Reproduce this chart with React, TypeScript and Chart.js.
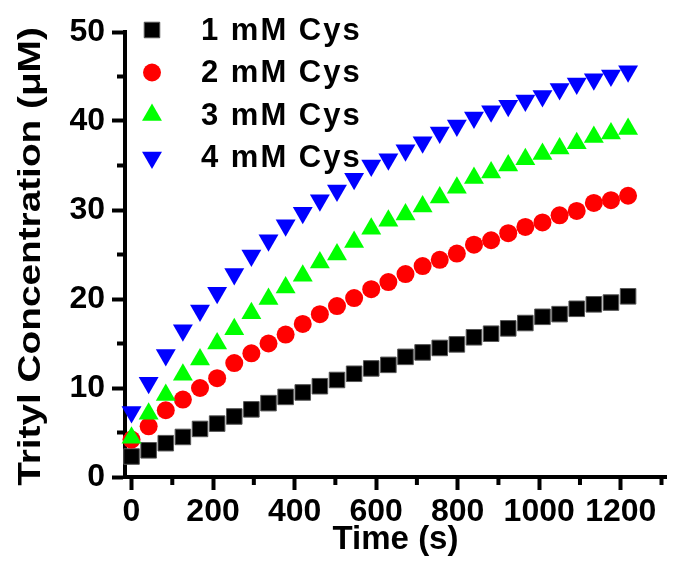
import React, { useEffect, useRef } from 'react';
import { Chart, registerables } from 'chart.js';
import { drawPoint } from 'chart.js/helpers';

Chart.register(...registerables);

// Sampling times (s)
const timeSec = [
  0, 42, 84, 126, 168, 210, 252, 294, 336, 378,
  420, 462, 504, 546, 588, 630, 672, 714, 756, 798,
  840, 882, 924, 966, 1008, 1050, 1092, 1134, 1176, 1218,
];

// Trityl concentration (µM) for each cysteine level
const cys1mM = [
  2.3, 3.0, 3.8, 4.5, 5.4, 6.0, 6.8, 7.6, 8.3, 9.0,
  9.5, 10.2, 10.9, 11.6, 12.2, 12.6, 13.5, 14.0, 14.5, 14.9,
  15.7, 16.1, 16.7, 17.3, 18.0, 18.3, 18.9, 19.4, 19.6, 20.3,
];
const cys2mM = [
  4.2, 5.7, 7.5, 8.7, 10.0, 11.1, 12.8, 13.9, 15.0, 16.0,
  17.2, 18.3, 19.2, 20.1, 21.1, 21.9, 22.8, 23.7, 24.4, 25.1,
  26.1, 26.6, 27.4, 28.1, 28.6, 29.4, 29.9, 30.8, 31.1, 31.6,
];
const cys3mM = [
  4.4, 7.1, 9.2, 11.5, 13.2, 15.0, 16.6, 18.4, 20.0, 21.3,
  22.6, 24.1, 25.0, 26.4, 27.9, 28.8, 29.5, 30.4, 31.4, 32.5,
  33.6, 34.2, 35.0, 35.7, 36.3, 36.9, 37.5, 38.2, 38.6, 39.1,
];
const cys4mM = [
  7.3, 10.6, 13.7, 16.5, 18.7, 20.7, 22.8, 24.9, 26.6, 28.3,
  29.7, 31.1, 32.2, 33.5, 35.0, 35.7, 36.7, 37.6, 38.7, 39.5,
  40.4, 41.1, 41.7, 42.3, 42.8, 43.6, 44.2, 44.7, 45.1, 45.6,
];

const seriesLabels = ['1 mM Cys', '2 mM Cys', '3 mM Cys', '4 mM Cys'];

const xMajorTicks = [0, 200, 400, 600, 800, 1000, 1200];
const xMinorTicks = [100, 300, 500, 700, 900, 1100, 1300];
const yMajorTicks = [0, 10, 20, 30, 40, 50];
const yMinorTicks = [5, 15, 25, 35, 45];

const xTitle = 'Time (s)';
const yTitle = 'Trityl Concentration (\u03BCM)';

const FONT = '"Liberation Sans", Arial, Helvetica, sans-serif';

const toPoints = (ys: number[]) => ys.map((y, i) => ({ x: timeSec[i], y }));

// Short outward ticks between the labelled ones
const minorTickPlugin = {
  id: 'minorTicks',
  afterDraw(chart: any) {
    const { ctx } = chart;
    const xs = chart.scales.x;
    const ys = chart.scales.y;
    ctx.save();
    ctx.strokeStyle = '#000';
    ctx.lineWidth = 4;
    ctx.lineCap = 'butt';
    ctx.beginPath();
    for (const v of xMinorTicks) {
      const px = xs.getPixelForValue(v);
      if (px < xs.left || px > xs.right + 2) continue;
      ctx.moveTo(px, xs.top);
      ctx.lineTo(px, xs.top + 8);
    }
    for (const v of yMinorTicks) {
      const py = ys.getPixelForValue(v);
      ctx.moveTo(ys.right, py);
      ctx.lineTo(ys.right - 8, py);
    }
    ctx.stroke();
    ctx.restore();
  },
};

// Vertical axis title, slightly elongated along its run
const yTitlePlugin = {
  id: 'yTitle',
  afterDraw(chart: any) {
    const { ctx, chartArea } = chart;
    const cy = (chartArea.top + chartArea.bottom) / 2 + 2;
    ctx.save();
    ctx.translate(31, cy);
    ctx.rotate(-Math.PI / 2);
    ctx.scale(1.25, 1);
    ctx.fillStyle = '#000';
    ctx.font = `bold 31px ${FONT}`;
    ctx.textAlign = 'center';
    ctx.textBaseline = 'middle';
    ctx.fillText(yTitle, 0, 0);
    ctx.restore();
  },
};

// Legend drawn inside the plot, top-left
const insideLegendPlugin = {
  id: 'insideLegend',
  afterDraw(chart: any) {
    const { ctx } = chart;
    const markerX = 152;
    const textX = 201;
    const firstY = 30;
    const step = 42.5;
    ctx.save();
    chart.data.datasets.forEach((ds: any, i: number) => {
      const y = firstY + i * step;
      ctx.fillStyle = ds.backgroundColor;
      ctx.strokeStyle = ds.borderColor;
      ctx.lineWidth = ds.borderWidth;
      drawPoint(
        ctx,
        {
          pointStyle: ds.pointStyle,
          rotation: ds.rotation || 0,
          radius: ds.pointRadius,
          borderWidth: ds.borderWidth,
        } as any,
        markerX,
        y
      );
      ctx.fillStyle = '#000';
      ctx.font = `bold 31px ${FONT}`;
      (ctx as any).letterSpacing = '2px';
      ctx.textAlign = 'left';
      ctx.textBaseline = 'middle';
      ctx.fillText(ds.label, textX, y + 1);
      (ctx as any).letterSpacing = '0px';
    });
    ctx.restore();
  },
};

export default function App() {
  const canvasRef = useRef<HTMLCanvasElement | null>(null);

  useEffect(() => {
    const canvas = canvasRef.current;
    if (!canvas) return;

    const tickFont = { family: FONT, size: 32, weight: 'bold' as const };
    const plainLabel = (v: any) => String(v);

    const chart = new Chart(canvas, {
      type: 'scatter',
      data: {
        datasets: [
          {
            label: seriesLabels[0],
            data: toPoints(cys1mM),
            pointStyle: 'rect',
            pointRadius: 11,
            backgroundColor: '#000000',
            borderColor: '#555555',
            borderWidth: 1,
            order: 4,
          },
          {
            label: seriesLabels[1],
            data: toPoints(cys2mM),
            pointStyle: 'circle',
            pointRadius: 9,
            backgroundColor: '#ff0000',
            borderColor: '#ff0000',
            borderWidth: 0,
            order: 3,
          },
          {
            label: seriesLabels[2],
            data: toPoints(cys3mM),
            pointStyle: 'triangle',
            pointRadius: 11.5,
            backgroundColor: '#00ff00',
            borderColor: '#00ff00',
            borderWidth: 0,
            order: 2,
          },
          {
            label: seriesLabels[3],
            data: toPoints(cys4mM),
            pointStyle: 'triangle',
            rotation: 180,
            pointRadius: 11.5,
            backgroundColor: '#0000ff',
            borderColor: '#0000ff',
            borderWidth: 0,
            order: 1,
          },
        ] as any,
      },
      options: {
        responsive: false,
        animation: false,
        devicePixelRatio: 1,
        clip: false as any,
        layout: { padding: { top: 32, left: 0, right: 0, bottom: 0 } },
        plugins: {
          legend: { display: false },
          tooltip: { enabled: false },
        },
        scales: {
          x: {
            type: 'linear',
            position: 'bottom',
            min: -16,
            max: 1311,
            afterBuildTicks: (s: any) => {
              s.ticks = xMajorTicks.map((v) => ({ value: v }));
            },
            afterFit: (s: any) => {
              s.height = 88;
            },
            ticks: {
              font: tickFont,
              color: '#000',
              padding: 3,
              maxRotation: 0,
              autoSkip: false,
              callback: plainLabel,
            },
            grid: {
              drawOnChartArea: false,
              drawTicks: true,
              tickLength: 13,
              tickWidth: 4,
              tickColor: '#000',
            },
            border: { display: true, width: 4, color: '#000' },
            title: {
              display: true,
              text: xTitle,
              color: '#000',
              font: { family: FONT, size: 33, weight: 'bold' },
              padding: { top: 0, bottom: 5 },
            },
          },
          y: {
            type: 'linear',
            min: 0,
            max: 50,
            afterBuildTicks: (s: any) => {
              s.ticks = yMajorTicks.map((v) => ({ value: v }));
            },
            afterFit: (s: any) => {
              s.width = 125;
            },
            ticks: {
              font: tickFont,
              color: '#000',
              padding: 7,
              autoSkip: false,
              callback: plainLabel,
            },
            grid: {
              drawOnChartArea: false,
              drawTicks: true,
              tickLength: 13,
              tickWidth: 4,
              tickColor: '#000',
            },
            border: { display: true, width: 4, color: '#000' },
            title: { display: false },
          },
        },
      } as any,
      plugins: [minorTickPlugin, yTitlePlugin, insideLegendPlugin],
    });

    return () => {
      chart.destroy();
    };
  }, []);

  return (
    <div
      style={{
        position: 'absolute',
        left: 0,
        top: 0,
        width: 678,
        height: 565,
        background: '#fff',
      }}
    >
      <canvas ref={canvasRef} width={678} height={565} />
    </div>
  );
}
